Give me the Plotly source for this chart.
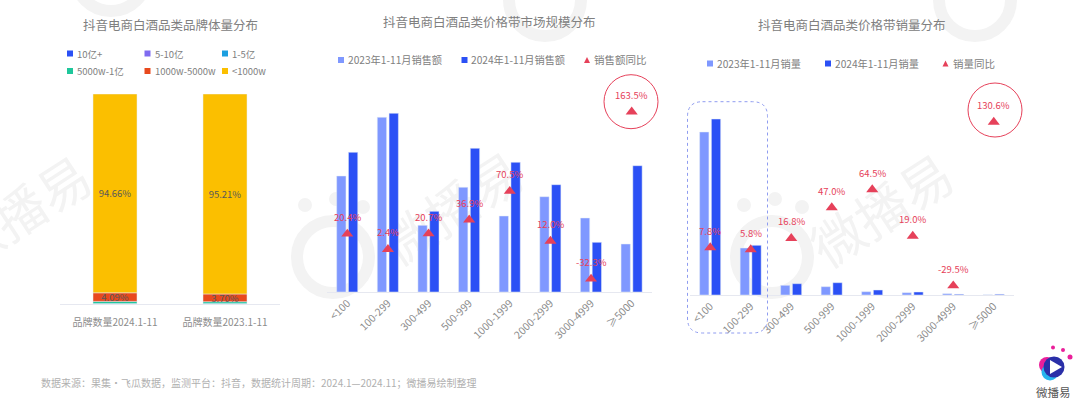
import plotly.graph_objects as go

W = 1080
H = 402
FONT = "Noto Sans CJK SC"
GREY = "#808080"
RED = "#e6415a"
LIGHT = "#7f98ff"
BLUE = "#2b50f5"
MARK = "#f3f3f3"

# left chart: brand size shares, bottom to top
brand_cats = ["品牌数量2024.1-11", "品牌数量2023.1-11"]
tier_names = ["10亿+", "5-10亿", "1-5亿", "5000w-1亿", "1000w-5000w", "<1000w"]
tier_colors = ["#2b50f5", "#7f6bf0", "#1b9fe0", "#1fc79b", "#e8491d", "#fbbf00"]
tier_2024 = [0.02, 0.03, 0.20, 1.00, 4.09, 94.66]
tier_2023 = [0.02, 0.02, 0.15, 0.90, 3.70, 95.21]

price_bands = ["<100", "100-299", "300-499", "500-999", "1000-1999", "2000-2999", "3000-4999", "≥5000"]

# middle chart: sales value, index units
gmv_2023 = [116, 174.7, 66.7, 104.7, 76, 95.3, 74, 48]
gmv_2024 = [139.7, 178.7, 80.7, 143.7, 129.7, 107.3, 49.7, 126.3]
gmv_yoy = [20.4, 2.4, 20.7, 36.9, 70.5, 12.0, -32.3, 163.5]

# right chart: sales volume, index units
vol_2023 = [163, 47, 9.7, 8.3, 3.3, 2.3, 1.3, 0.2]
vol_2024 = [176, 49.7, 11.3, 12.3, 5, 3, 0.7, 0.7]
vol_yoy = [7.8, 5.8, 16.8, 47.0, 64.5, 19.0, -29.5, 130.6]


def px(x):
    return x / W


def py(y):
    return 1 - y / H


def text(x, y, s, size=10, color=GREY, anchor="left"):
    fig.add_annotation(x=px(x), y=py(y), xref="paper", yref="paper", text=s, showarrow=False,
                       xanchor=anchor, yanchor="middle", font=dict(size=size, color=color), borderpad=0)


def rect(x0, y0, x1, y1, color):
    fig.add_shape(type="rect", xref="paper", yref="paper", x0=px(x0), x1=px(x1), y0=py(y0), y1=py(y1),
                  fillcolor=color, line_width=0)


def circle(cx, cy, r, fill=None, line=None, lw=0, layer="above"):
    fig.add_shape(type="circle", xref="paper", yref="paper", x0=px(cx - r), x1=px(cx + r),
                  y0=py(cy + r), y1=py(cy - r), fillcolor=fill or "rgba(0,0,0,0)",
                  line=dict(color=line or "rgba(0,0,0,0)", width=lw), layer=layer)


def poly(points, color):
    path = "M" + " L".join(f"{px(a):.5f},{py(b):.5f}" for a, b in points) + " Z"
    fig.add_shape(type="path", xref="paper", yref="paper", path=path, fillcolor=color, line_width=0)


def watermark_text(cx, cy):
    fig.add_shape(type="rect", xref="paper", yref="paper", x0=px(cx - 90), x1=px(cx + 90),
                  y0=py(cy + 30), y1=py(cy - 30), line_width=0, fillcolor="rgba(0,0,0,0)", layer="below",
                  label=dict(text="微播易", textangle=-33, textposition="middle center",
                             font=dict(size=52, color=MARK, family=FONT)))


def watermark_logo(cx, cy):
    circle(cx, cy, 36, line=MARK, lw=12, layer="below")
    for dx, dy, r in [(-28, -52, 7), (3, -58, 7), (30, -50, 7)]:
        circle(cx + dx, cy + dy, r, fill=MARK, layer="below")


def add_band_chart(n, vals_a, vals_b, yoy, name_a, name_b, name_yoy):
    fig.add_trace(go.Bar(x=price_bands, y=vals_a, name=name_a, marker_color=LIGHT, width=0.229, offset=-0.262,
                         xaxis=f"x{n}", yaxis=f"y{n}", showlegend=False))
    fig.add_trace(go.Bar(x=price_bands, y=vals_b, name=name_b, marker_color=BLUE, width=0.229, offset=0.028,
                         xaxis=f"x{n}", yaxis=f"y{n}", showlegend=False))
    fig.add_trace(go.Scatter(x=price_bands, y=yoy, name=name_yoy, mode="markers",
                             marker=dict(symbol="triangle-up", size=10.5, color=RED),
                             xaxis=f"x{n}", yaxis=f"y{n + 2}", showlegend=False))
    for band, v in zip(price_bands, yoy):
        fig.add_annotation(x=band, y=v, xref=f"x{n}", yref=f"y{n + 2}", text=f"{v:.1f}%", showarrow=False,
                           yshift=17, font=dict(size=9.5, color=RED))


fig = go.Figure()

# bars are overlaid with an explicit base, barmode is global and the other charts need side by side bars
bottom = [0, 0]
for i, name in enumerate(tier_names):
    vals = [tier_2024[i], tier_2023[i]]
    labels = [f"{v:.2f}%" if v > 2 else "" for v in vals]
    fig.add_trace(go.Bar(x=brand_cats, y=vals, base=list(bottom), name=name, marker_color=tier_colors[i], width=0.4,
                         text=labels, textposition="inside", insidetextanchor="middle", constraintext="none",
                         textfont=dict(size=9.5, color="#595959"), showlegend=False))
    bottom = [bottom[0] + vals[0], bottom[1] + vals[1]]

add_band_chart(2, gmv_2023, gmv_2024, gmv_yoy, "2023年1-11月销售额", "2024年1-11月销售额", "销售额同比")
add_band_chart(3, vol_2023, vol_2024, vol_yoy, "2023年1-11月销量", "2024年1-11月销量", "销量同比")

axis_line = dict(showline=True, linecolor="#e6e8f0", linewidth=1, showgrid=False, zeroline=False, ticks="")
band_ticks = dict(size=10.5, color="#8c8c8c")
fig.update_layout(
    width=W, height=H, margin=dict(l=0, r=0, t=0, b=0, autoexpand=False), barmode="overlay",
    paper_bgcolor="white", plot_bgcolor="rgba(0,0,0,0)", showlegend=False,
    font=dict(family=FONT, color=GREY),
    xaxis=dict(domain=[px(60), px(280)], anchor="y", range=[-0.5, 1.5], ticklabelstandoff=9,
               tickfont=dict(size=10, color="#8c8c8c"), **axis_line),
    yaxis=dict(domain=[py(304), py(94)], range=[0, 100], visible=False),
    xaxis2=dict(domain=[px(327), px(652)], anchor="y2", range=[-0.5, 7.5], tickangle=-45, tickfont=band_ticks, **axis_line),
    yaxis2=dict(domain=[py(292), py(82)], range=[0, 210], visible=False),
    xaxis3=dict(domain=[px(690), px(1014)], anchor="y3", range=[-0.5, 7.5], tickangle=-45, tickfont=band_ticks, **axis_line),
    yaxis3=dict(domain=[py(295), py(85)], range=[0, 210], visible=False),
    yaxis4=dict(domain=[py(293.3), py(83.3)], range=[-49.2, 196.9], visible=False, anchor="x2"),
    yaxis5=dict(domain=[py(296.3), py(86.3)], range=[-39.9, 165.6], visible=False, anchor="x3"),
)

# watermarks
watermark_text(23, 217)
watermark_text(455, 213)
watermark_text(885, 215)
watermark_logo(333, 257)
watermark_logo(772, 257)
watermark_logo(111, -25)
watermark_logo(545, 0)
watermark_logo(975, 0)

# titles
text(170, 25, "抖音电商白酒品类品牌体量分布", size=12.5, anchor="center")
text(489, 22, "抖音电商白酒品类价格带市场规模分布", size=12.5, anchor="center")
text(852, 25, "抖音电商白酒品类价格带销量分布", size=12.5, anchor="center")

# legends
leg_x = [67, 144.5, 222, 67, 144.5, 222]
leg_y = [53.5, 53.5, 53.5, 71, 71, 71]
for i, name in enumerate(tier_names):
    rect(leg_x[i], leg_y[i] - 3, leg_x[i] + 6, leg_y[i] + 3, tier_colors[i])
    text(leg_x[i] + 9, leg_y[i], name, size=9.5)

rect(338, 57, 344, 63, LIGHT)
text(346.5, 60, "2023年1-11月销售额", size=10.2)
rect(461.5, 57, 467.5, 63, BLUE)
text(469.5, 60, "2024年1-11月销售额", size=10.2)
poly([(584, 63), (590, 63), (587, 57)], RED)
text(593, 60, "销售额同比", size=10.5)

rect(707, 60.5, 713, 66.5, LIGHT)
text(715.5, 63.5, "2023年1-11月销量", size=10.2)
rect(825, 60.5, 831, 66.5, BLUE)
text(833.5, 63.5, "2024年1-11月销量", size=10.2)
poly([(942.5, 66.5), (948.5, 66.5), (945.5, 60.5)], RED)
text(951.5, 63.5, "销量同比", size=10.5)

# callouts
circle(631, 101.7, 27, line=RED, lw=1)
circle(995, 110, 27, line=RED, lw=1)

x0, x1, y0, y1, r = 687.5, 767.5, 101.7, 333, 15
box = (f"M{px(x0 + r)},{py(y0)} L{px(x1 - r)},{py(y0)} Q{px(x1)},{py(y0)} {px(x1)},{py(y0 + r)} "
       f"L{px(x1)},{py(y1 - r)} Q{px(x1)},{py(y1)} {px(x1 - r)},{py(y1)} L{px(x0 + r)},{py(y1)} "
       f"Q{px(x0)},{py(y1)} {px(x0)},{py(y1 - r)} L{px(x0)},{py(y0 + r)} Q{px(x0)},{py(y0)} {px(x0 + r)},{py(y0)} Z")
fig.add_shape(type="path", xref="paper", yref="paper", path=box, line=dict(color="#8f9cf0", width=1, dash="dot"))

# footer
text(40, 382, "数据来源：果集·飞瓜数据，监测平台：抖音，数据统计周期：2024.1—2024.11；微播易绘制整理", size=10, color="#b0b0b0")

# logo
circle(1047, 365, 8, fill="#ea1f9a")
circle(1050, 372, 8.5, fill="#27b5ee")
circle(1054, 367, 10.5, fill="#2a2fa8")
poly([(1050, 360), (1050, 374), (1062, 367)], "white")
circle(1053, 347.5, 2, fill="#ea1f9a")
circle(1063, 350, 2, fill="#ea1f9a")
circle(1070, 357, 2.5, fill="#ea1f9a")
text(1053, 392, "微播易", size=11.5, color="#555555", anchor="center")

# the browser's default body margin would shift the whole figure
fig.write_html("out.html", config=dict(displayModeBar=False), post_script="document.body.style.margin='0';")
